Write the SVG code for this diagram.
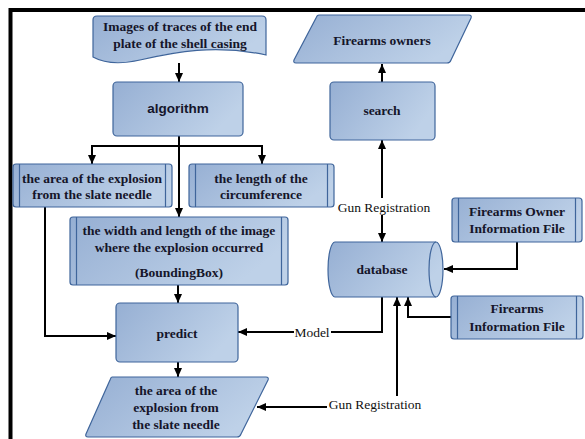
<svg xmlns="http://www.w3.org/2000/svg" width="585" height="439" viewBox="0 0 585 439">
<style>
.n{fill:url(#g);stroke:#3f659b;stroke-width:1.2}
.il{stroke:#3f659b;stroke-width:1.2;fill:none}
.t{font-family:"Liberation Serif",serif;font-weight:bold;font-size:13.5px;fill:#15152a;text-anchor:middle}
.s{font-family:"Liberation Sans",sans-serif;font-weight:bold;font-size:13.5px;fill:#15152a;text-anchor:middle}
.l{font-family:"Liberation Serif",serif;font-size:13.5px;fill:#111;text-anchor:middle}
.c{fill:none;stroke:#000;stroke-width:2}
.ae{marker-end:url(#a)}
.as{marker-start:url(#as)}
</style>
<defs>
<linearGradient id="g" x1="0" y1="0" x2="1" y2="0.4">
<stop offset="0" stop-color="#96afd3"/>
<stop offset="1" stop-color="#bed1e8"/>
</linearGradient>
<marker id="a" markerWidth="10" markerHeight="10" refX="9" refY="5" orient="auto" markerUnits="userSpaceOnUse">
<path d="M0,1 L9,5 L0,9 Z" fill="#000"/>
</marker>
<marker id="as" markerWidth="10" markerHeight="10" refX="1" refY="5" orient="auto" markerUnits="userSpaceOnUse">
<path d="M10,1 L1,5 L10,9 Z" fill="#000"/>
</marker>
</defs>
<rect width="585" height="439" fill="#fff"/>
<path d="M10.5,445 V10 H600" fill="none" stroke="#000" stroke-width="4"/>

<g id="connectors">
<line class="c ae" x1="179" y1="63" x2="179" y2="82"/>
<line class="c ae" x1="179" y1="136" x2="179" y2="217"/>
<polyline class="c" points="92,164 92,146 262,146 262,164"/>
<line class="c ae" x1="92" y1="146" x2="92" y2="164"/>
<line class="c ae" x1="262" y1="146" x2="262" y2="164"/>
<line class="c ae" x1="178" y1="285" x2="178" y2="303"/>
<polyline class="c ae" points="45,207 45,336 116,336"/>
<line class="c ae" x1="178" y1="362" x2="178" y2="377"/>
<line class="c ae" x1="382" y1="82" x2="382" y2="64"/>
<line class="c ae as" x1="382" y1="140" x2="382" y2="242"/>
<polyline class="c ae" points="517,242 517,269 444,269"/>
<polyline class="c ae" points="451,317 408,317 408,297"/>
<polyline class="c ae" points="382,297 382,332 238,332"/>
<polyline class="c ae as" points="397,297 397,407 257,407"/>
<rect x="336" y="198" width="96" height="17" fill="#fff"/>
<text class="l" x="384" y="212">Gun Registration</text>
<rect x="294" y="324" width="37" height="16" fill="#fff"/>
<text class="l" x="312" y="337">Model</text>
<rect x="327" y="396" width="97" height="17" fill="#fff"/>
<text class="l" x="375" y="409">Gun Registration</text>
</g>

<g id="images">
<path class="n" d="M93,20 Q93,16 97,16 H262 Q266,16 266,20 V55 C215,44 175,52 140,60 C118,65 102,62 93,57 Z"/>
<text class="t" x="180" y="31">Images  of traces of the end</text>
<text class="t" x="180" y="48">plate of the shell casing</text>
</g>

<g id="algorithm">
<rect class="n" x="113" y="82" width="130" height="54" rx="4"/>
<text class="s" x="178" y="113">algorithm</text>
</g>

<g id="area">
<rect class="n" x="13" y="164" width="159" height="43" rx="3"/>
<path class="il" d="M19.5,164 V207 M165.5,164 V207"/>
<text class="t" x="92" y="183">the area of the explosion</text>
<text class="t" x="92" y="199">from the slate needle</text>
</g>

<g id="circumference">
<rect class="n" x="189" y="164" width="145" height="43" rx="3"/>
<path class="il" d="M195.5,164 V207 M327.5,164 V207"/>
<text class="t" x="261" y="183">the length of  the</text>
<text class="t" x="261" y="199">circumference</text>
</g>

<g id="width">
<rect class="n" x="70" y="217" width="218" height="68" rx="3"/>
<path class="il" d="M76.5,217 V285 M281.5,217 V285"/>
<text class="t" x="179" y="235">the width and length of the image</text>
<text class="t" x="179" y="252">where the explosion occurred</text>
<text class="t" x="179" y="277">(BoundingBox)</text>
</g>

<g id="predict">
<rect class="n" x="116" y="303" width="122" height="59" rx="4"/>
<text class="t" x="177" y="338">predict</text>
</g>

<g id="output">
<path class="n" d="M112,377 H266 Q269,377 268,380 L241,434 Q240,437 237,437 H88 Q85,437 86,434 L110,380 Q111,377 112,377 Z"/>
<text class="t" x="176" y="395">the area of the</text>
<text class="t" x="176" y="412">explosion from</text>
<text class="t" x="176" y="429">the slate needle</text>
</g>

<g id="owners">
<path class="n" d="M319,15 H469 Q472,15 471,18 L451,60 Q450,63 447,63 H296 Q293,63 294,60 L316,18 Q317,15 319,15 Z"/>
<text class="t" x="382" y="45">Firearms owners</text>
</g>

<g id="search">
<rect class="n" x="330" y="82" width="105" height="58" rx="4"/>
<text class="t" x="382" y="115">search</text>
</g>

<g id="database">
<path class="n" d="M335,242 H436 A7,27.5 0 0 1 436,297 H335 A7,27.5 0 0 1 335,242 Z"/>
<path class="il" d="M436,242 A7,27.5 0 0 0 436,297"/>
<text class="t" x="382" y="274">database</text>
</g>

<g id="ownerfile">
<rect class="n" x="452" y="198" width="130" height="44" rx="3"/>
<path class="il" d="M458.5,198 V242 M575.5,198 V242"/>
<text class="t" x="517" y="216">Firearms Owner</text>
<text class="t" x="517" y="233">Information File</text>
</g>

<g id="firearmsfile">
<rect class="n" x="451" y="296" width="132" height="43" rx="3"/>
<path class="il" d="M457.5,296 V339 M576.5,296 V339"/>
<text class="t" x="517" y="313">Firearms</text>
<text class="t" x="517" y="331">Information File</text>
</g>
</svg>
